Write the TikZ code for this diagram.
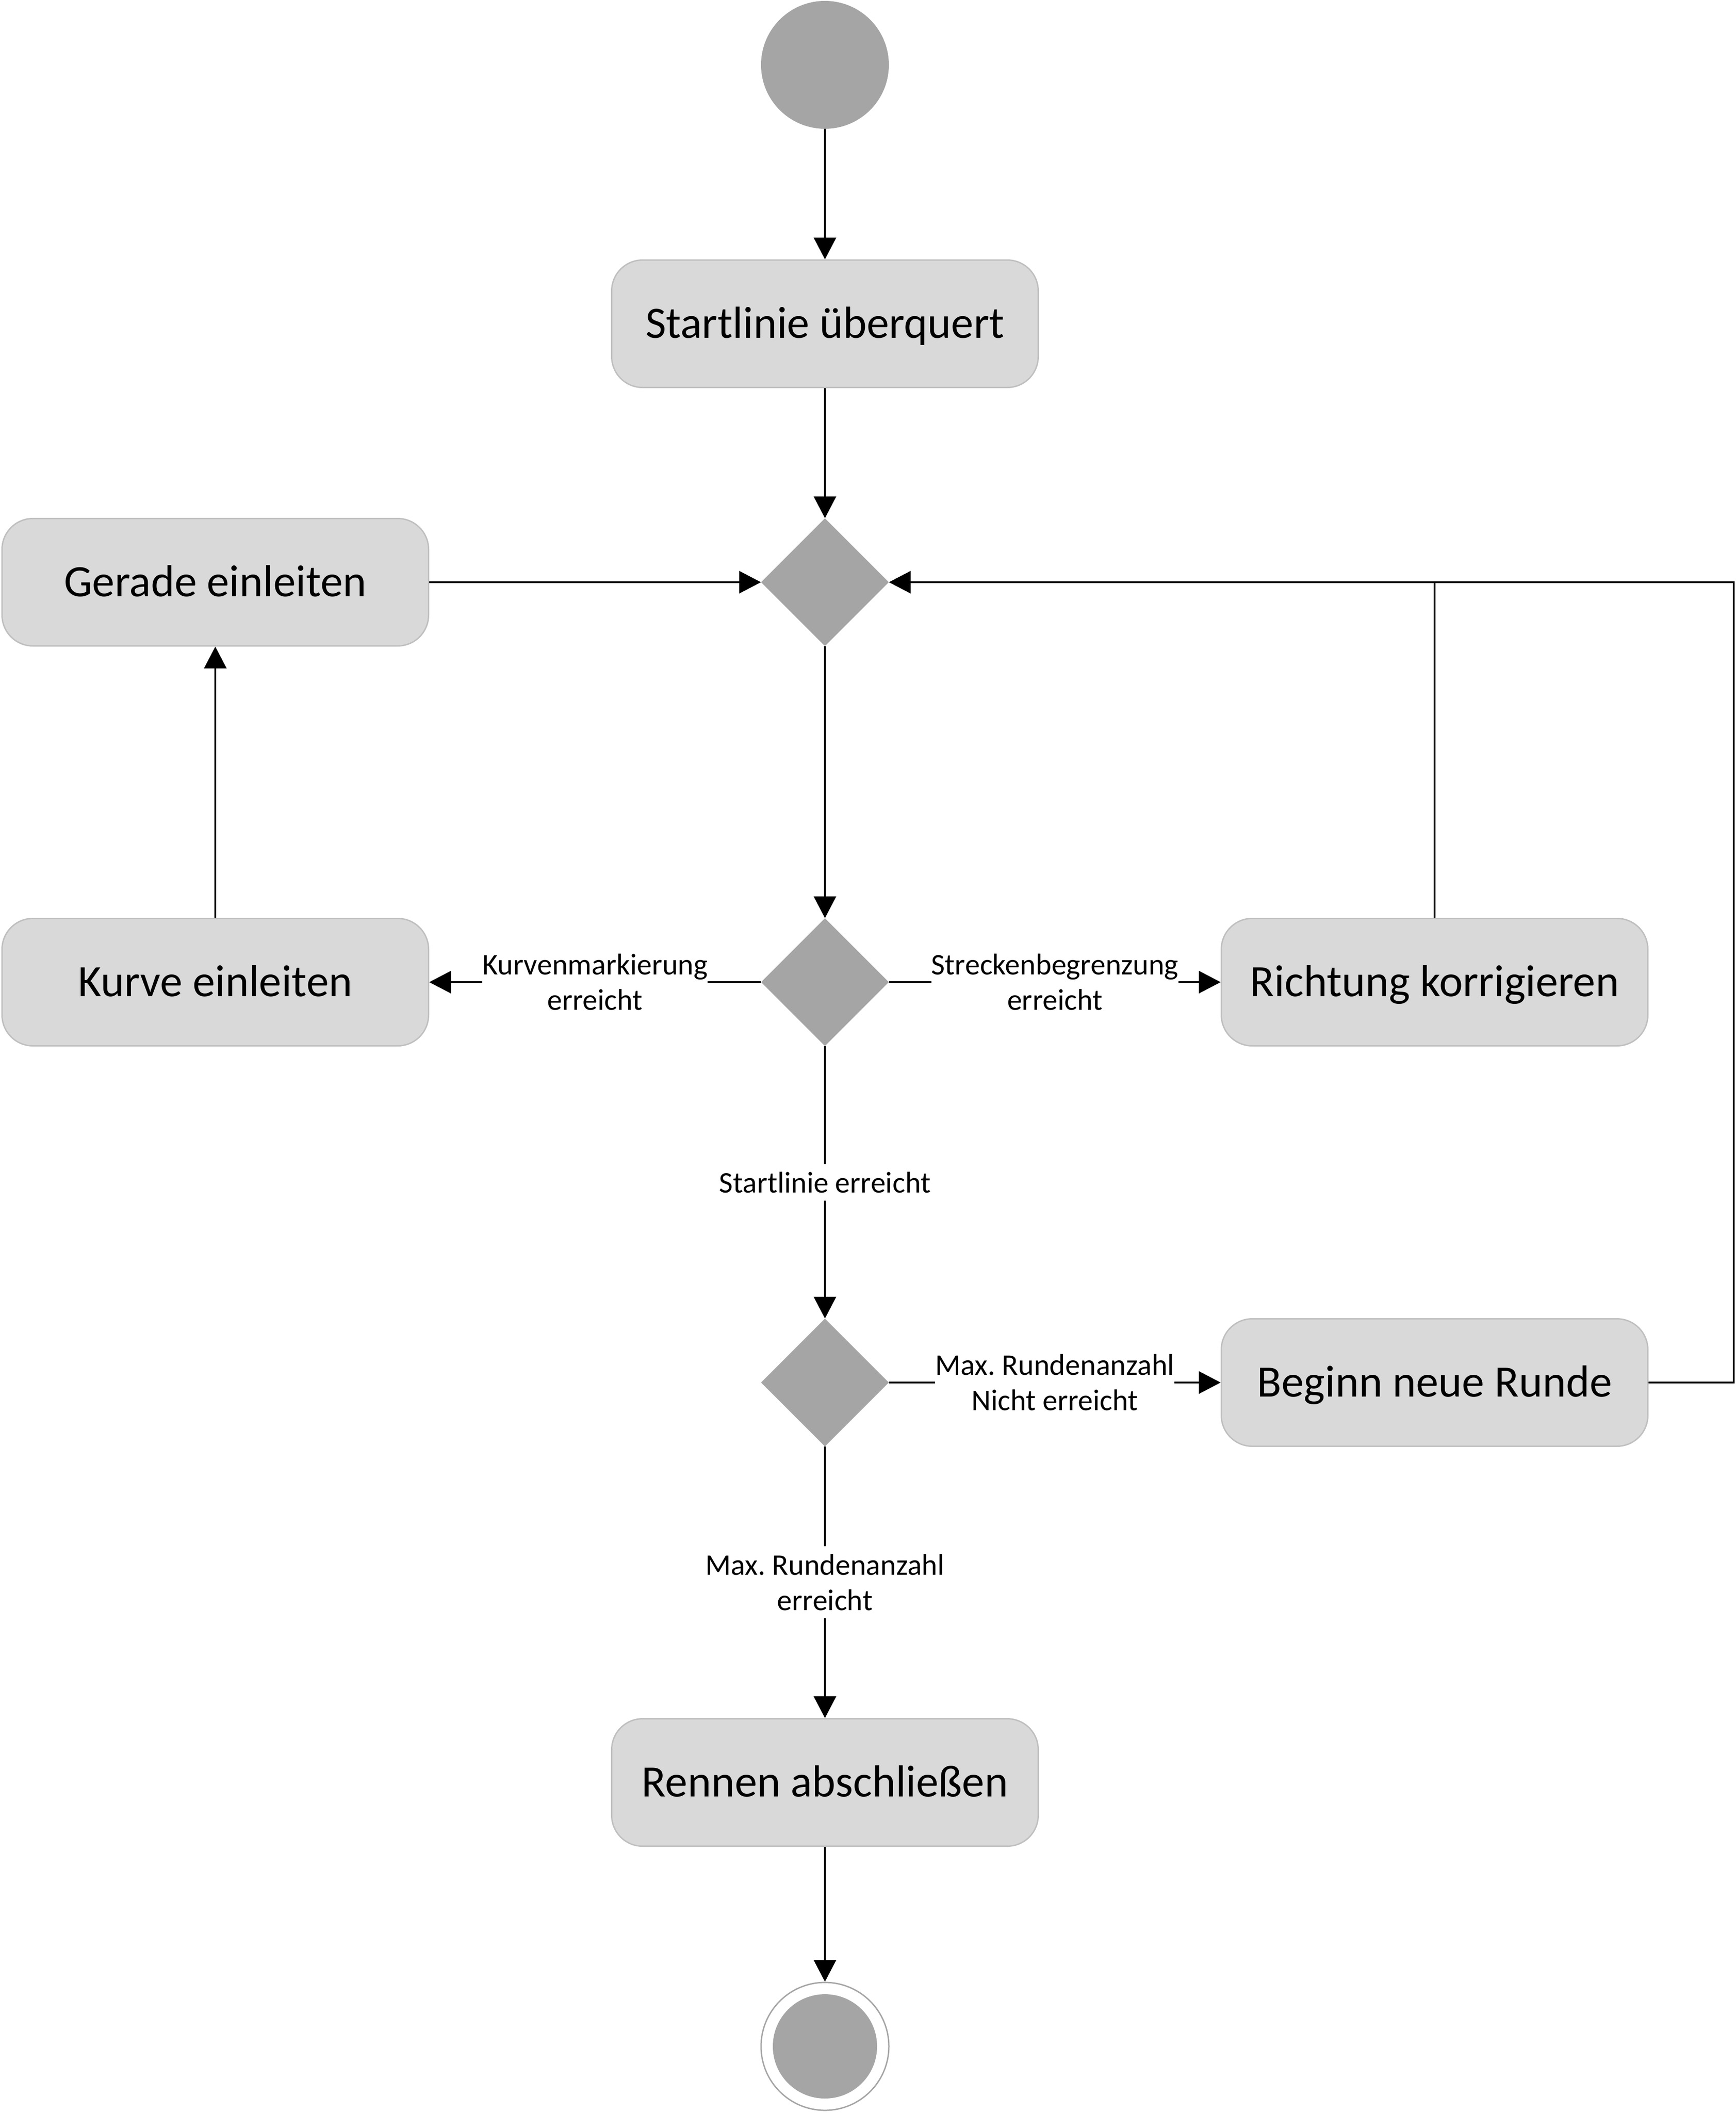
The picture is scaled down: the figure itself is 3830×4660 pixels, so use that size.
\documentclass[tikz,border=0pt]{standalone}
\usepackage{fontspec}
\setmainfont{Carlito}
\frenchspacing
\usetikzlibrary{shapes.geometric,arrows.meta}
\definecolor{boxfill}{HTML}{D9D9D9}
\definecolor{boxline}{HTML}{BFBFBF}
\definecolor{darkgray}{HTML}{A5A5A5}
\begin{document}
\begin{tikzpicture}[x=1pt,y=-1pt,
  actionbox/.style={rectangle, rounded corners=68pt, draw=boxline, line width=3pt, fill=boxfill,
    minimum width=941pt, minimum height=281pt, inner sep=0pt,
    text height=63pt, text depth=0pt,
    font=\fontsize{99}{119}\selectfont\frenchspacing, text=black},
  decisionbox/.style={diamond, fill=darkgray, draw=none, minimum width=282pt, minimum height=282pt, inner sep=0pt},
  initnode/.style={circle, fill=darkgray, draw=none, minimum size=282pt, inner sep=0pt},
  finalring/.style={circle, fill=white, draw=darkgray, line width=3pt, minimum size=282pt, inner sep=0pt},
  finalcore/.style={circle, fill=darkgray, draw=none, minimum size=230pt, inner sep=0pt},
  arrowline/.style={line width=4pt, -{Triangle[length=48pt,width=49pt]}},
  connline/.style={line width=4pt},
  lbl/.style={fill=white, inner xsep=0pt, inner ysep=17pt, align=center, text=black,
    font=\fontsize{66}{78}\selectfont\frenchspacing}
]
\useasboundingbox (0,0) rectangle (3830,4660);

\node[initnode] (start) at (1820,143) {};
\node[actionbox] (sl) at (1820,714) {Startlinie überquert};
\node[decisionbox] (d1) at (1820,1284) {};
\node[actionbox] (gerade) at (475,1284) {Gerade einleiten};
\node[actionbox] (kurve) at (475,2166) {Kurve einleiten};
\node[decisionbox] (d2) at (1820,2166) {};
\node[actionbox] (richtung) at (3165,2166) {Richtung korrigieren};
\node[decisionbox] (d3) at (1820,3049) {};
\node[actionbox] (beginn) at (3165,3049) {Beginn neue Runde};
\node[actionbox] (rennen) at (1820,3931) {Rennen abschließen};
\node[finalring] (end) at (1820,4513) {};
\node[finalcore] (endcore) at (end.center) {};

\coordinate (loopr) at (3825,3049);
\coordinate (loopt) at (3825,1284);
\coordinate (junct) at (3165,1284);

\draw[arrowline] (start) -- (sl);
\draw[arrowline] (sl) -- (d1);
\draw[arrowline] (gerade) -- (d1);
\draw[arrowline] (d1) -- (d2);
\draw[arrowline] (kurve) -- (gerade);
\draw[arrowline] (d2) -- node[lbl] {Kurvenmarkierung\\erreicht} (kurve);
\draw[arrowline] (d2) -- node[lbl] {Streckenbegrenzung\\erreicht} (richtung);
\draw[arrowline] (d2) -- node[lbl] {Startlinie erreicht} (d3);
\draw[arrowline] (d3) -- node[lbl] {Max. Rundenanzahl\\Nicht erreicht} (beginn);
\draw[arrowline] (d3) -- node[lbl] {Max. Rundenanzahl\\erreicht} (rennen);
\draw[arrowline] (rennen) -- (end);
\draw[arrowline] (beginn.east) -- (loopr) -- (loopt) -- (d1.east);
\draw[connline] (richtung.north) -- (junct);
\end{tikzpicture}
\end{document}
